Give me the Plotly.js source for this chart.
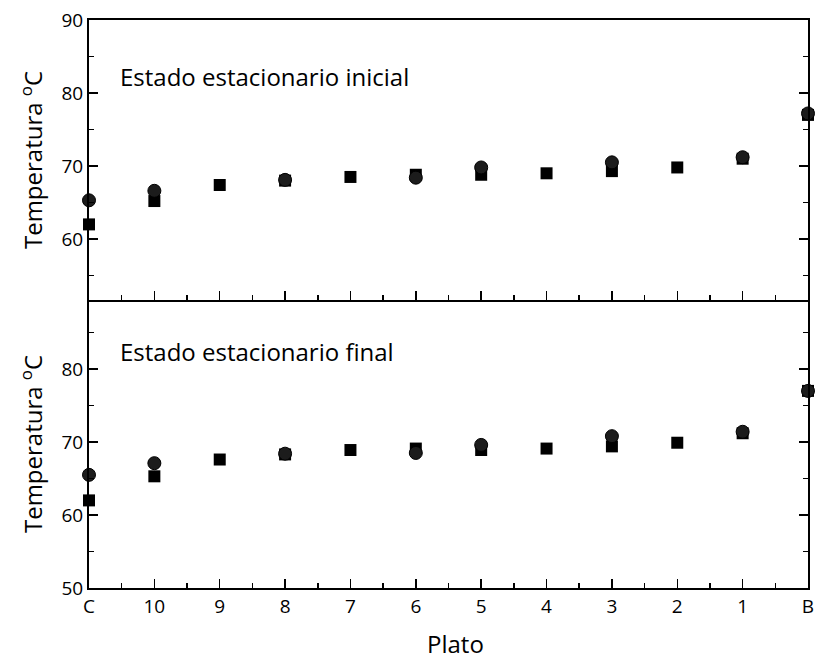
<!DOCTYPE html>
<html>
<head>
<meta charset="utf-8">
<script src="https://cdn.plot.ly/plotly-3.0.1.min.js"></script>
<style>
  html, body { margin: 0; padding: 0; background: #fff; }
  #chart { width: 817px; height: 659px; }
</style>
</head>
<body>
<div id="chart"></div>
<script>
// Plate positions along the column (condenser C, plates 10..1, boiler B)
const plates = ["C", "10", "9", "8", "7", "6", "5", "4", "3", "2", "1", "B"];
const platePos = plates.map((_, i) => i);

// Initial steady state (°C)
const initCircleX = ["C", "10", "8", "6", "5", "3", "1", "B"];
const initCircleT = [65.3, 66.6, 68.1, 68.4, 69.8, 70.5, 71.2, 77.2];
const initSquareX = ["C", "10", "9", "8", "7", "6", "5", "4", "3", "2", "1", "B"];
const initSquareT = [62.0, 65.2, 67.4, 68.0, 68.5, 68.8, 68.8, 69.0, 69.3, 69.8, 71.0, 77.0];

// Final steady state (°C)
const finCircleX = ["C", "10", "8", "6", "5", "3", "1", "B"];
const finCircleT = [65.5, 67.1, 68.4, 68.5, 69.6, 70.8, 71.4, 77.0];
const finSquareX = ["C", "10", "9", "8", "7", "6", "5", "4", "3", "2", "1", "B"];
const finSquareT = [62.0, 65.3, 67.6, 68.3, 68.9, 69.1, 68.9, 69.1, 69.4, 69.9, 71.2, 77.0];

const pos = (labels) => labels.map(l => plates.indexOf(l));

const FONT = "Open Sans, Noto Sans, sans-serif";
const squareMarker = { symbol: "square", size: 12, color: "#000", line: { width: 0 } };
const circleMarker = { symbol: "circle", size: 13, color: "#1c1c1c", line: { width: 1, color: "#000" } };

const traces = [
  { x: pos(initSquareX), y: initSquareT, xaxis: "x2", yaxis: "y2", mode: "markers", marker: squareMarker, cliponaxis: false },
  { x: pos(initCircleX), y: initCircleT, xaxis: "x2", yaxis: "y2", mode: "markers", marker: circleMarker, cliponaxis: false },
  { x: pos(finSquareX), y: finSquareT, xaxis: "x", yaxis: "y", mode: "markers", marker: squareMarker, cliponaxis: false },
  { x: pos(finCircleX), y: finCircleT, xaxis: "x", yaxis: "y", mode: "markers", marker: circleMarker, cliponaxis: false }
];

const split = 288 / 568;

const xCommon = {
  range: [0, 11],
  tickvals: platePos,
  ticktext: plates,
  ticks: "inside",
  ticklen: 9,
  tickwidth: 1.5,
  tickcolor: "#000",
  minor: { dtick: 0.5, tick0: 0, ticks: "inside", ticklen: 5, tickwidth: 1.5, tickcolor: "#000" },
  showline: true,
  linecolor: "#000",
  linewidth: 2,
  showgrid: false,
  zeroline: false,
  tickfont: { family: FONT, size: 19, color: "#000" }
};

const yCommon = {
  dtick: 10,
  tick0: 0,
  ticks: "inside",
  ticklen: 9,
  tickwidth: 1.5,
  tickcolor: "#000",
  minor: { dtick: 5, tick0: 0, ticks: "inside", ticklen: 5, tickwidth: 1.5, tickcolor: "#000" },
  showline: true,
  linecolor: "#000",
  linewidth: 2,
  mirror: "ticks",
  showgrid: false,
  zeroline: false,
  tickfont: { family: FONT, size: 19, color: "#000" },
  title: { text: "Temperatura <sup>o</sup>C", font: { family: FONT, size: 24, color: "#000" }, standoff: 12 }
};

const layout = {
  width: 817,
  height: 659,
  margin: { l: 89, r: 9, t: 20, b: 71 },
  paper_bgcolor: "#fff",
  plot_bgcolor: "#fff",
  showlegend: false,
  xaxis: Object.assign({}, xCommon, { anchor: "y", mirror: false }),
  xaxis2: Object.assign({}, xCommon, { anchor: "y2", matches: "x", mirror: true, showticklabels: false }),
  yaxis: Object.assign({}, yCommon, { domain: [0, split], range: [50, 50 + 288 / 7.3], tickvals: [50, 60, 70, 80], anchor: "x" }),
  yaxis2: Object.assign({}, yCommon, { domain: [split, 1], range: [90 - 280 / 7.3, 90], tickvals: [60, 70, 80, 90], anchor: "x2" }),
  annotations: [
    { text: "Estado estacionario inicial", xref: "paper", yref: "paper", x: 0.04, y: 0.901,
      xanchor: "left", yanchor: "middle", showarrow: false, font: { family: FONT, size: 24, color: "#000" } },
    { text: "Estado estacionario final", xref: "paper", yref: "paper", x: 0.04, y: 0.4155,
      xanchor: "left", yanchor: "middle", showarrow: false, font: { family: FONT, size: 24, color: "#000" } },
    // x-axis title
    { text: "Plato", xref: "paper", yref: "paper", x: 0.51, y: -0.098,
      xanchor: "center", yanchor: "middle", showarrow: false, font: { family: FONT, size: 24, color: "#000" } }
  ]
};

Plotly.newPlot("chart", traces, layout, { staticPlot: true, displayModeBar: false });
</script>
</body>
</html>
